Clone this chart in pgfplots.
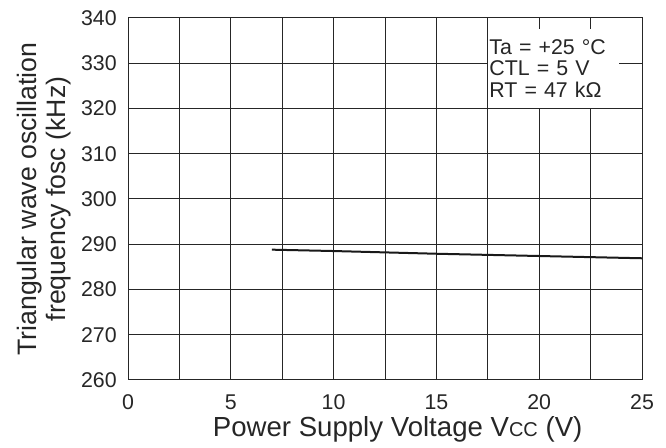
\documentclass[border=0pt]{standalone}
\usepackage{pgfplots}
\pgfplotsset{compat=1.18}
\usepackage{fontspec}
\setmainfont{Liberation Sans}
\begin{document}
\begin{tikzpicture}
\begin{axis}[
  name=ax,
  scale only axis,
  width=385.5pt, height=271.5pt,
  xmin=0, xmax=25, ymin=260, ymax=340,
  xtick={0,5,...,25},
  minor xtick={2.5,7.5,...,22.5},
  ytick={260,270,...,340},
  grid=both,
  major grid style={black!85, line width=0.75pt},
  minor grid style={black!85, line width=0.75pt},
  axis line style={black!85, line width=0.75pt},
  major tick length=0pt, minor tick length=0pt,
  /pgf/number format/assume math mode=true,
  /pgf/number format/1000 sep={},
  tick label style={font=\fontsize{16pt}{17pt}\selectfont, text=black!85},
  xticklabel style={anchor=base, yshift=-22.5pt},
  yticklabel style={xshift=-5pt},
  xlabel={Power Supply Voltage V{\fontsize{15pt}{16pt}\selectfont CC} (V)},
  ylabel={Triangular wave oscillation\\frequency fosc (kHz)},
  ylabel style={align=center, font=\fontsize{20pt}{22pt}\selectfont, text=black!85, yshift=0.5pt},
  xlabel style={at={(axis description cs:0.5,0)}, anchor=base, yshift=-42.75pt, xshift=9.5pt,
                font=\fontsize{20.7pt}{22pt}\selectfont, text=black!85},
  clip=false,
]
\addplot[black!90, line width=1.5pt] coordinates {
  (7,288.8) (10,288.5) (15,287.9) (20,287.4) (25,286.9)
};
\node[fill=white, anchor=north west, inner xsep=1pt, inner ysep=8pt, align=left,
      font=\fontsize{16pt}{16.2pt}\selectfont, text=black!85, text width=96pt]
  at (axis cs:17.5,337.7) {Ta = +25 °C\\CTL = 5 V\\RT = 47 kΩ};
\end{axis}
\path ([xshift=-96pt,yshift=-48pt]ax.south west) rectangle ([xshift=18pt,yshift=13.5pt]ax.north east);
\end{tikzpicture}
\end{document}
